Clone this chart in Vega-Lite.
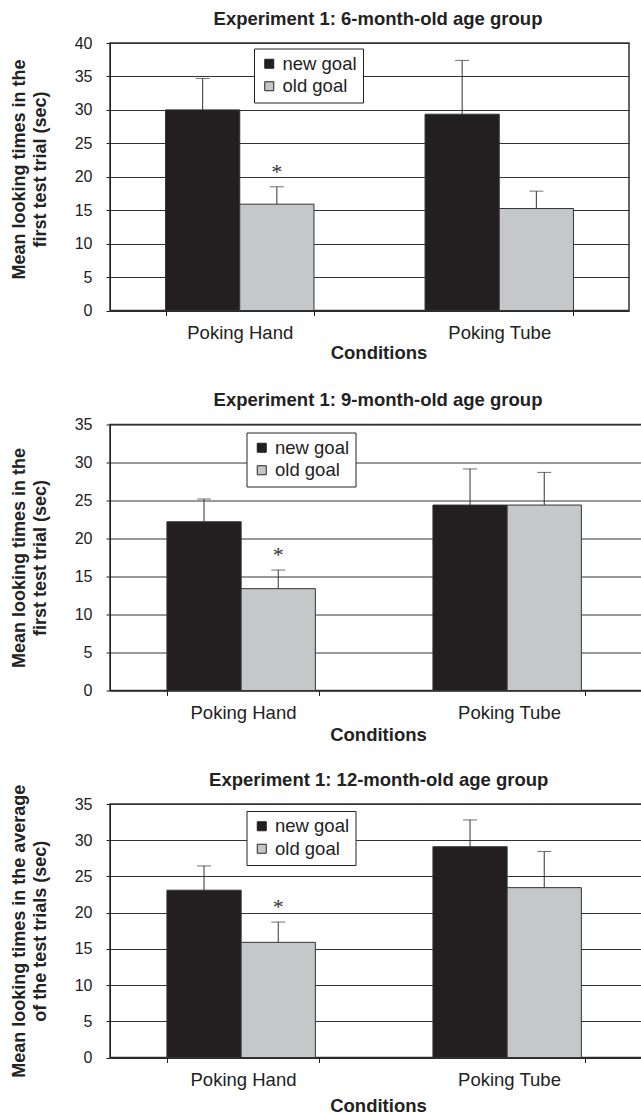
{
  "$schema": "https://vega.github.io/schema/vega-lite/v6.json",
  "background": "white",
  "padding": {"left": 9, "top": 9, "right": 0, "bottom": 0},
  "bounds": "flush",
  "spacing": 113.5,
  "datasets": {
    "d": [
      {"age": "6", "cond": "Poking Hand", "goal": "new goal", "mean": 30.0, "err": 34.7, "sig": false},
      {"age": "6", "cond": "Poking Hand", "goal": "old goal", "mean": 15.9, "err": 18.5, "sig": true},
      {"age": "6", "cond": "Poking Tube", "goal": "new goal", "mean": 29.35, "err": 37.4, "sig": false},
      {"age": "6", "cond": "Poking Tube", "goal": "old goal", "mean": 15.25, "err": 17.85, "sig": false},
      {"age": "9", "cond": "Poking Hand", "goal": "new goal", "mean": 22.2, "err": 25.2, "sig": false},
      {"age": "9", "cond": "Poking Hand", "goal": "old goal", "mean": 13.4, "err": 15.85, "sig": true},
      {"age": "9", "cond": "Poking Tube", "goal": "new goal", "mean": 24.4, "err": 29.15, "sig": false},
      {"age": "9", "cond": "Poking Tube", "goal": "old goal", "mean": 24.4, "err": 28.7, "sig": false},
      {"age": "12", "cond": "Poking Hand", "goal": "new goal", "mean": 23.1, "err": 26.45, "sig": false},
      {"age": "12", "cond": "Poking Hand", "goal": "old goal", "mean": 15.9, "err": 18.7, "sig": true},
      {"age": "12", "cond": "Poking Tube", "goal": "new goal", "mean": 29.1, "err": 32.8, "sig": false},
      {"age": "12", "cond": "Poking Tube", "goal": "old goal", "mean": 23.45, "err": 28.45, "sig": false}
    ]
  },
  "config": {
    "font": "Liberation Sans",
    "view": {"stroke": "#333", "strokeWidth": 1.5},
    "title": {"font": "Liberation Sans", "fontSize": 18.5, "fontWeight": "bold", "color": "#222", "baseline": "alphabetic", "frame": "group", "anchor": "middle"},
    "axisY": {"labelFont": "Liberation Sans", "labelFontSize": 16, "labelColor": "#222", "labelPadding": 14, "labelOverlap": false, "tickSize": 4, "tickColor": "#222", "domainColor": "#222", "grid": true, "gridColor": "#333", "gridWidth": 1, "titleFont": "Liberation Sans", "titleFontSize": 18, "titleFontWeight": "bold", "titleColor": "#222", "titleBaseline": "alphabetic", "titleX": -86, "titleLineHeight": 21.7, "titleAngle": 270},
    "axisX": {"labelFont": "Liberation Sans", "labelFontSize": 18.5, "labelColor": "#222", "labelAngle": 0, "labelBaseline": "alphabetic", "labelPadding": 23, "tickSize": 5, "tickColor": "#222", "tickBand": "extent", "domainColor": "#222", "grid": false, "titleFont": "Liberation Sans", "titleFontSize": 18.5, "titleFontWeight": "bold", "titleColor": "#222", "titleBaseline": "alphabetic"},
    "legend": {"orient": "none", "title": null, "strokeColor": "#222", "fillColor": "white", "padding": 6, "labelFont": "Liberation Sans", "labelFontSize": 18.5, "labelColor": "#222", "symbolType": "square", "symbolSize": 81, "symbolStrokeColor": "#222", "symbolStrokeWidth": 1, "rowPadding": 3.5, "labelOffset": 4}
  },
  "resolve": {"scale": {"color": "independent"}, "legend": {"color": "independent"}},
  "vconcat": [
    {
      "width": 519, "height": 267.5,
      "title": {"text": "Experiment 1: 6-month-old age group", "dx": 8.5, "offset": 6.5},
      "data": {"name": "d"},
      "transform": [{"filter": "datum.age === '6'"}],
      "encoding": {
        "x": {"field": "cond", "type": "nominal", "scale": {"paddingInner": 0.428, "paddingOuter": 0.214}, "axis": {"title": "Conditions", "titleX": 268.5, "titleY": 48}},
        "xOffset": {"field": "goal", "type": "nominal", "scale": {"paddingInner": 0, "paddingOuter": 0}}
      },
      "layer": [
        {"mark": {"type": "bar", "stroke": "#333", "strokeWidth": 1},
         "encoding": {
           "y": {"field": "mean", "type": "quantitative", "scale": {"domain": [0, 40], "nice": false}, "axis": {"values": [0, 5, 10, 15, 20, 25, 30, 35, 40], "title": ["Mean looking times in the", "first test trial (sec)"], "titleY": 126}},
           "color": {"field": "goal", "type": "nominal", "scale": {"domain": ["new goal", "old goal"], "range": ["#231f20", "#c6c7c9"]}, "legend": {"legendX": 144, "legendY": 5.5}}
         }},
        {"mark": {"type": "rule", "color": "#333", "strokeWidth": 1},
         "encoding": {"y": {"field": "mean", "type": "quantitative", "scale": {"domain": [0, 40], "nice": false}, "axis": {"values": [0, 5, 10, 15, 20, 25, 30, 35, 40], "title": ["Mean looking times in the", "first test trial (sec)"], "titleY": 126}}, "y2": {"field": "err"}}},
        {"mark": {"type": "tick", "color": "#333", "thickness": 1, "size": 14},
         "encoding": {"y": {"field": "err", "type": "quantitative", "scale": {"domain": [0, 40], "nice": false}, "axis": {"values": [0, 5, 10, 15, 20, 25, 30, 35, 40], "title": ["Mean looking times in the", "first test trial (sec)"], "titleY": 126}}}},
        {"transform": [{"filter": "datum.sig"}],
         "mark": {"type": "text", "text": "*", "font": "Liberation Serif", "fontSize": 22, "baseline": "middle", "dy": -15, "color": "#333"},
         "encoding": {"y": {"field": "err", "type": "quantitative", "scale": {"domain": [0, 40], "nice": false}, "axis": {"values": [0, 5, 10, 15, 20, 25, 30, 35, 40], "title": ["Mean looking times in the", "first test trial (sec)"], "titleY": 126}}}}
      ]
    },
    {
      "width": 532, "height": 266,
      "title": {"text": "Experiment 1: 9-month-old age group", "dx": 2, "offset": 7},
      "data": {"name": "d"},
      "transform": [{"filter": "datum.age === '9'"}],
      "encoding": {
        "x": {"field": "cond", "type": "nominal", "scale": {"paddingInner": 0.428, "paddingOuter": 0.214}, "axis": {"title": "Conditions", "titleX": 268, "titleY": 50}},
        "xOffset": {"field": "goal", "type": "nominal", "scale": {"paddingInner": 0, "paddingOuter": 0}}
      },
      "layer": [
        {"mark": {"type": "bar", "stroke": "#333", "strokeWidth": 1},
         "encoding": {
           "y": {"field": "mean", "type": "quantitative", "scale": {"domain": [0, 35], "nice": false}, "axis": {"values": [0, 5, 10, 15, 20, 25, 30, 35], "title": ["Mean looking times in the", "first test trial (sec)"]}},
           "color": {"field": "goal", "type": "nominal", "scale": {"domain": ["new goal", "old goal"], "range": ["#231f20", "#c6c7c9"]}, "legend": {"legendX": 136.5, "legendY": 8}}
         }},
        {"mark": {"type": "rule", "color": "#333", "strokeWidth": 1},
         "encoding": {"y": {"field": "mean", "type": "quantitative", "scale": {"domain": [0, 35], "nice": false}, "axis": {"values": [0, 5, 10, 15, 20, 25, 30, 35], "title": ["Mean looking times in the", "first test trial (sec)"]}}, "y2": {"field": "err"}}},
        {"mark": {"type": "tick", "color": "#333", "thickness": 1, "size": 14},
         "encoding": {"y": {"field": "err", "type": "quantitative", "scale": {"domain": [0, 35], "nice": false}, "axis": {"values": [0, 5, 10, 15, 20, 25, 30, 35], "title": ["Mean looking times in the", "first test trial (sec)"]}}}},
        {"transform": [{"filter": "datum.sig"}],
         "mark": {"type": "text", "text": "*", "font": "Liberation Serif", "fontSize": 22, "baseline": "middle", "dy": -15, "color": "#333"},
         "encoding": {"y": {"field": "err", "type": "quantitative", "scale": {"domain": [0, 35], "nice": false}, "axis": {"values": [0, 5, 10, 15, 20, 25, 30, 35], "title": ["Mean looking times in the", "first test trial (sec)"]}}}}
      ]
    },
    {
      "width": 532, "height": 253.5,
      "title": {"text": "Experiment 1: 12-month-old age group", "dx": 2.7, "offset": -5},
      "data": {"name": "d"},
      "transform": [{"filter": "datum.age === '12'"}],
      "encoding": {
        "x": {"field": "cond", "type": "nominal", "scale": {"paddingInner": 0.428, "paddingOuter": 0.214}, "axis": {"title": "Conditions", "titleX": 268, "titleY": 54}},
        "xOffset": {"field": "goal", "type": "nominal", "scale": {"paddingInner": 0, "paddingOuter": 0}}
      },
      "layer": [
        {"mark": {"type": "bar", "stroke": "#333", "strokeWidth": 1},
         "encoding": {
           "y": {"field": "mean", "type": "quantitative", "scale": {"domain": [0, 35], "nice": false}, "axis": {"values": [0, 5, 10, 15, 20, 25, 30, 35], "title": ["Mean looking times in the average", "of the test trials (sec)"]}},
           "color": {"field": "goal", "type": "nominal", "scale": {"domain": ["new goal", "old goal"], "range": ["#231f20", "#c6c7c9"]}, "legend": {"legendX": 136.5, "legendY": 7}}
         }},
        {"mark": {"type": "rule", "color": "#333", "strokeWidth": 1},
         "encoding": {"y": {"field": "mean", "type": "quantitative", "scale": {"domain": [0, 35], "nice": false}, "axis": {"values": [0, 5, 10, 15, 20, 25, 30, 35], "title": ["Mean looking times in the average", "of the test trials (sec)"]}}, "y2": {"field": "err"}}},
        {"mark": {"type": "tick", "color": "#333", "thickness": 1, "size": 14},
         "encoding": {"y": {"field": "err", "type": "quantitative", "scale": {"domain": [0, 35], "nice": false}, "axis": {"values": [0, 5, 10, 15, 20, 25, 30, 35], "title": ["Mean looking times in the average", "of the test trials (sec)"]}}}},
        {"transform": [{"filter": "datum.sig"}],
         "mark": {"type": "text", "text": "*", "font": "Liberation Serif", "fontSize": 22, "baseline": "middle", "dy": -15, "color": "#333"},
         "encoding": {"y": {"field": "err", "type": "quantitative", "scale": {"domain": [0, 35], "nice": false}, "axis": {"values": [0, 5, 10, 15, 20, 25, 30, 35], "title": ["Mean looking times in the average", "of the test trials (sec)"]}}}}
      ]
    }
  ]
}
